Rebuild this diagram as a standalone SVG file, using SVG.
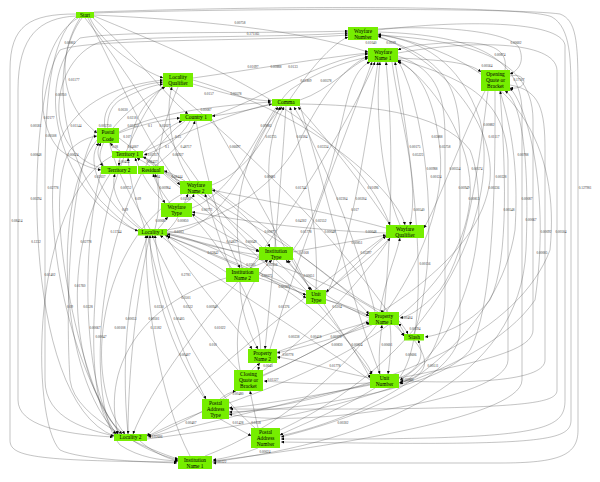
<svg xmlns="http://www.w3.org/2000/svg" width="600" height="482" viewBox="0 0 600 482">
<defs>
<marker id="a" viewBox="0 0 10 10" refX="10" refY="5" markerWidth="3" markerHeight="3" markerUnits="userSpaceOnUse" orient="auto"><path d="M0,0 L10,5 L0,10 z" fill="#000"/></marker>
<style>
#edges path{fill:none;stroke:#444;stroke-width:0.32;marker-end:url(#a)}
#edges text{font-family:"Liberation Serif",serif;font-size:3.4px;fill:#333;text-anchor:middle}
.n rect{fill:#76ee00}
.n text{font-family:"Liberation Serif",serif;font-size:5.4px;fill:#000;text-anchor:middle}
</style>
</defs>
<rect width="600" height="482" fill="#fff"/>
<g id="edges">
<path d="M76,14 C30,14 10,25 10,70 L10,440 C10,456 30,461 177,462"/>
<path d="M76,16 C40,18 18,35 18,90 L18,400 C18,425 60,434 113,437"/>
<path d="M94,13 C250,8 520,8 560,14 C576,20 578,40 578,90 L578,430 C578,455 560,463 500,463 L213,463"/>
<path d="M94,12 C300,5 530,6 552,17 C571,28 571,60 571,100 L571,420 C571,442 540,446 281,442"/>
<path d="M378,30 C460,20 560,20 565,45 L565,400 C565,432 540,440 281,439"/>
<path d="M398,53 C470,40 555,40 557,70 L557,390 C557,405 520,410 230,409"/>
<path d="M510,85 C540,90 545,110 545,150 L545,360 C545,380 480,384 400,381"/>
<path d="M378,35 C450,40 533,50 533,120 L533,330 C533,360 420,370 300,400 C220,420 170,432 148,437"/>
<path d="M488,91 C480,150 470,250 440,290 C420,310 410,316 400,318"/>
<path d="M500,91 C505,160 510,260 490,300 C470,325 440,335 425,337"/>
<path d="M398,58 C440,60 470,62 481,72"/>
<path d="M505,70 C510,40 470,40 420,45 C405,47 400,49 398,50"/>
<path d="M378,29 C430,25 515,30 520,50 C525,65 515,72 510,74"/>
<path d="M510,76 C527,72 530,90 510,88"/>
<path d="M300,100 C330,90 350,65 368,58"/>
<path d="M293,250 C330,200 340,120 350,90 C355,75 362,65 370,62"/>
<path d="M326,295 C350,250 365,150 378,62"/>
<path d="M384,312 C390,250 395,150 386,62"/>
<path d="M399,378 C430,340 420,200 395,62"/>
<path d="M414,334 C440,260 430,120 398,60"/>
<path d="M400,225 C380,180 375,100 380,62"/>
<path d="M167,230 C230,220 280,180 300,140 C320,100 340,70 368,56"/>
<path d="M212,116 C260,100 320,60 368,54"/>
<path d="M193,78 C250,70 320,58 368,53"/>
<path d="M192,208 C240,190 260,120 290,90 C320,70 345,62 368,57"/>
<path d="M119,132 C160,110 230,105 271,102"/>
<path d="M143,152 C190,130 240,110 272,104"/>
<path d="M212,185 C250,170 270,130 280,107"/>
<path d="M167,233 C230,230 250,150 278,107"/>
<path d="M276,247 C270,200 260,150 284,107"/>
<path d="M242,268 C230,220 240,150 282,107"/>
<path d="M316,290 C320,220 300,150 290,107"/>
<path d="M375,312 C360,250 320,150 294,107"/>
<path d="M390,225 C360,180 320,130 298,107"/>
<path d="M290,99 C310,70 330,45 348,37"/>
<path d="M193,84 C230,95 250,100 271,101"/>
<path d="M300,104 C360,105 440,110 470,150 C490,200 480,330 400,380"/>
<path d="M90,18 C100,40 130,65 163,78"/>
<path d="M105,128 C100,100 130,85 163,82"/>
<path d="M130,151 C130,120 150,95 165,87"/>
<path d="M150,229 C120,180 90,120 120,100 C140,90 150,86 163,84"/>
<path d="M190,181 C170,150 165,110 172,87"/>
<path d="M120,434 C60,350 40,200 60,140 C80,100 120,85 163,80"/>
<path d="M272,104 C250,110 230,114 212,116"/>
<path d="M119,133 C140,125 160,120 180,118"/>
<path d="M143,153 C160,135 170,125 182,121"/>
<path d="M190,121 C180,140 160,150 144,155"/>
<path d="M155,166 C175,150 190,135 195,121"/>
<path d="M120,151 C115,148 112,145 110,143"/>
<path d="M80,18 C60,50 55,100 97,133"/>
<path d="M116,434 C80,380 40,200 70,150 C80,140 90,137 97,136"/>
<path d="M140,229 C100,200 85,160 99,143"/>
<path d="M104,166 C95,155 98,148 101,143"/>
<path d="M145,229 C135,200 130,180 128,158"/>
<path d="M180,185 C160,170 150,160 143,157"/>
<path d="M120,158 C119,162 119,164 119,166"/>
<path d="M150,166 C145,162 140,160 137,158"/>
<path d="M165,203 C150,190 140,170 135,158"/>
<path d="M78,18 C40,40 30,120 60,150 C80,165 90,168 101,170"/>
<path d="M142,229 C120,210 110,190 115,174"/>
<path d="M165,87 C120,110 90,150 103,166"/>
<path d="M185,181 C175,175 168,172 164,171"/>
<path d="M170,203 C160,190 155,180 153,174"/>
<path d="M155,229 C160,210 160,190 155,174"/>
<path d="M185,203 C190,200 193,197 194,194"/>
<path d="M230,268 C220,240 210,210 205,194"/>
<path d="M386,228 C320,210 260,200 212,190"/>
<path d="M167,231 C180,220 185,200 188,194"/>
<path d="M158,229 C162,225 165,220 168,217"/>
<path d="M259,250 C230,240 210,225 192,214"/>
<path d="M386,233 C300,230 240,220 192,212"/>
<path d="M178,87 C160,130 150,180 165,203"/>
<path d="M259,255 C220,250 190,240 167,234"/>
<path d="M226,272 C200,255 180,245 167,236"/>
<path d="M306,295 C250,270 200,250 165,235"/>
<path d="M369,316 C300,290 230,260 167,236"/>
<path d="M370,380 C300,330 200,270 160,235"/>
<path d="M255,428 C200,380 160,300 155,235"/>
<path d="M238,370 C200,330 170,280 152,235"/>
<path d="M128,434 C120,350 130,280 148,235"/>
<path d="M205,399 C170,350 150,280 150,235"/>
<path d="M190,456 C160,400 145,300 146,235"/>
<path d="M326,293 C350,270 370,250 386,236"/>
<path d="M380,312 C385,280 395,260 400,238"/>
<path d="M293,252 C330,245 360,240 386,235"/>
<path d="M392,62 C400,120 420,180 410,225"/>
<path d="M485,91 C460,140 440,200 424,228"/>
<path d="M250,268 C260,264 265,262 268,260"/>
<path d="M312,290 C300,275 290,265 286,260"/>
<path d="M167,231 C200,235 230,245 259,251"/>
<path d="M212,190 C240,210 260,230 270,247"/>
<path d="M369,318 C330,300 300,280 288,260"/>
<path d="M240,370 C230,320 250,280 272,260"/>
<path d="M293,258 C300,270 305,280 310,290"/>
<path d="M259,278 C280,285 295,290 306,295"/>
<path d="M326,300 C345,305 360,310 369,316"/>
<path d="M390,238 C370,260 340,280 326,292"/>
<path d="M380,374 C378,360 380,340 382,325"/>
<path d="M405,335 C403,330 400,325 398,324"/>
<path d="M399,321 C403,326 406,330 408,334"/>
<path d="M277,352 C310,340 340,330 369,322"/>
<path d="M263,375 C300,360 340,335 370,323"/>
<path d="M399,378 C420,370 425,355 418,340"/>
<path d="M414,340 C430,360 430,375 399,383"/>
<path d="M370,378 C330,370 300,360 277,357"/>
<path d="M372,325 C330,340 300,348 277,353"/>
<path d="M252,370 C255,366 258,365 260,363"/>
<path d="M240,282 C240,310 250,335 258,349"/>
<path d="M370,383 C330,385 290,383 264,381"/>
<path d="M220,399 C225,395 230,392 236,391"/>
<path d="M258,428 C255,415 252,400 250,391"/>
<path d="M390,325 C392,340 390,360 388,374"/>
<path d="M324,304 C340,330 360,360 372,375"/>
<path d="M148,235 C160,300 190,370 206,399"/>
<path d="M370,385 C320,395 260,405 229,408"/>
<path d="M202,412 C180,420 160,430 148,436"/>
<path d="M220,419 C230,425 245,432 251,436"/>
<path d="M258,448 C240,455 225,458 213,460"/>
<path d="M375,388 C340,410 300,425 280,435"/>
<path d="M150,235 C135,300 128,380 128,434"/>
<path d="M386,235 C300,300 200,380 147,436"/>
<path d="M182,194 C100,240 80,380 125,434"/>
<path d="M110,174 C60,250 70,380 122,434"/>
<path d="M97,140 C50,200 60,380 118,434"/>
<path d="M260,258 C200,320 150,390 133,434"/>
<path d="M140,441 C150,450 165,458 178,461"/>
<path d="M112,156 C30,200 30,420 60,450 C80,460 150,462 177,463"/>
<path d="M185,121 C100,180 80,400 120,445 C140,458 160,460 178,461"/>
<path d="M280,436 C400,410 500,330 515,230 C520,150 505,110 500,91"/>
<path d="M212,462 C380,440 520,380 526,250 C530,150 520,100 505,91"/>
<path d="M147,437 C250,400 350,300 390,238"/>
<path d="M229,403 C350,360 460,300 470,200 C475,140 430,80 398,60"/>
<path d="M263,376 C380,320 480,260 490,180 C495,120 440,60 378,36"/>
<path d="M167,234 C280,260 380,300 404,336"/>
<path d="M167,233 C250,250 360,340 372,374"/>
<path d="M270,349 C300,250 340,150 372,62"/>
<path d="M250,268 C300,200 350,120 375,62"/>
<path d="M205,456 C350,400 450,250 440,150 C435,100 420,70 398,62"/>
<path d="M280,430 C450,350 500,200 480,120 C460,60 420,40 378,35"/>
<path d="M82,18 C50,60 60,150 100,200 C120,220 130,228 138,231"/>
<path d="M88,18 C120,80 150,150 180,185"/>
<path d="M92,17 C140,60 170,100 188,114"/>
<path d="M101,168 C40,150 50,60 100,42 C150,35 270,38 348,33"/>
<path d="M138,231 C60,200 30,80 80,38 C130,30 260,34 348,31"/>
<path d="M94,15 C200,20 300,30 368,52"/>
<path d="M398,56 C440,70 445,100 445,140 L445,300 C445,330 430,370 400,384"/>
<path d="M378,37 C450,60 460,90 460,150 L460,330 C460,380 350,420 281,437"/>
<path d="M398,59 C470,80 505,100 508,160 L508,360 C508,400 300,430 229,414"/>
<path d="M378,32 C480,35 520,60 522,110 L522,380 C522,420 300,450 213,461"/>
<path d="M495,91 C495,140 497,300 470,350 C440,390 300,410 229,412"/>
<path d="M76,17 C50,40 45,100 45,180 L45,380 C45,420 90,430 114,436"/>
<path d="M97,130 C70,170 65,300 70,380 C75,420 150,450 178,459"/>
<path d="M101,172 C80,250 85,380 110,420 C130,445 160,455 178,460"/>
<path d="M163,86 C130,130 100,200 95,300 C90,380 100,420 116,434"/>
<path d="M165,235 C200,290 240,330 252,349"/>
<path d="M226,278 C150,300 100,360 118,434"/>
<path d="M212,188 C300,250 350,300 384,312"/>
<path d="M192,215 C240,270 270,330 258,370"/>
<path d="M163,82 C250,150 350,250 404,336"/>
<path d="M193,80 C330,120 400,200 405,225"/>
<path d="M119,138 C200,200 280,280 306,298"/>
<path d="M143,156 C240,220 330,300 370,378"/>
<path d="M164,172 C260,230 320,260 369,314"/>
<path d="M300,106 C330,200 350,300 380,374"/>
<path d="M286,106 C280,200 270,300 265,349"/>
<path d="M212,119 C260,200 300,280 312,290"/>
<path d="M196,121 C210,200 230,250 240,268"/>
<path d="M85,18 C150,100 200,200 259,252"/>
<path d="M94,16 C200,60 350,120 390,225"/>
<path d="M147,439 C300,420 480,380 535,300 C550,200 530,110 510,88"/>
<path d="M229,414 C400,390 520,330 550,250 C560,150 520,60 378,34"/>
<path d="M114,436 C20,400 25,100 60,50 C90,38 250,42 348,35"/>
<text x="70" y="44">0.00802</text><text x="74" y="81">0.01177</text><text x="61" y="96">0.00950</text><text x="49" y="119">0.02177</text><text x="36" y="127">0.00581</text><text x="76" y="127">0.01144</text><text x="105" y="127">0.005750</text><text x="51" y="137">0.00508</text><text x="123" y="111">0.0030</text><text x="132" y="119">0.0218</text><text x="133" y="127">0.05337</text><text x="150" y="127">0.1</text><text x="165" y="127">0.03027</text><text x="127" y="138">0.107</text><text x="115" y="148">0.08</text><text x="133" y="148">0.04007</text><text x="178" y="138">0.25</text><text x="153" y="156">0.05937</text><text x="167" y="148">0.1</text><text x="186" y="148">0.48717</text><text x="36" y="156">0.00848</text><text x="73" y="156">0.00624</text><text x="178" y="156">0.06937</text>
<text x="240" y="24">0.00758</text><text x="253" y="35">0.171165</text><text x="253" y="68">0.01097</text><text x="276" y="68">0.00888</text><text x="293" y="68">0.0133</text><text x="306" y="82">0.01809</text><text x="326" y="82">0.00578</text><text x="209" y="95">0.0157</text><text x="236" y="95">0.00578</text><text x="206" y="111">0.00087</text><text x="266" y="127">0.09083</text><text x="271" y="138">0.05735</text><text x="302" y="138">0.05184</text><text x="235" y="148">0.06697</text><text x="323" y="148">0.03334</text><text x="371" y="44">0.01040</text><text x="391" y="44">0.0039</text>
<text x="516" y="44">0.00602</text><text x="500" y="56">0.00874</text><text x="487" y="67">0.00564</text><text x="519" y="81">0.17507</text><text x="489" y="126">0.00882</text><text x="494" y="138">0.01117</text><text x="437" y="138">0.03888</text><text x="445" y="148">0.05758</text><text x="415" y="148">0.00175</text><text x="523" y="156">0.00788</text><text x="418" y="156">0.05223</text>
<text x="124" y="163">0.00454</text><text x="152" y="163">0.06437</text><text x="100" y="178">0.02037</text><text x="157" y="178">0.04</text><text x="177" y="178">0.08444</text><text x="53" y="189">0.02778</text><text x="126" y="189">0.00752</text><text x="165" y="189">0.00984</text><text x="36" y="200">0.00294</text><text x="138" y="200">0.09</text><text x="186" y="200">0.03187</text><text x="125" y="211">0.09</text><text x="17" y="222">0.08414</text><text x="161" y="222">0.00687</text><text x="183" y="222">0.00850</text><text x="116" y="233">0.11744</text><text x="179" y="233">0.0303</text><text x="36" y="243">0.1232</text><text x="86" y="243">0.02778</text><text x="50" y="276">0.01402</text><text x="80" y="287">0.01760</text><text x="186" y="276">0.2781</text><text x="186" y="299">0.0501</text><text x="70" y="308">0.09</text><text x="88" y="308">0.0328</text><text x="159" y="308">0.0350</text><text x="188" y="308">0.0332</text><text x="131" y="320">0.00053</text><text x="154" y="320">0.00501</text><text x="179" y="320">0.00405</text>
<text x="270" y="178">0.00881</text><text x="301" y="189">0.01744</text><text x="373" y="189">0.01096</text><text x="342" y="200">0.02204</text><text x="361" y="200">0.00204</text><text x="207" y="211">0.00771</text><text x="355" y="211">0.017</text><text x="301" y="222">0.04302</text><text x="321" y="222">0.02552</text><text x="270" y="233">0.00877</text><text x="306" y="233">0.01778</text><text x="330" y="233">0.00048</text><text x="371" y="233">0.00048</text><text x="232" y="243">0.04837</text><text x="251" y="243">0.00049</text><text x="357" y="244">0.00851</text><text x="213" y="254">0.03842</text><text x="304" y="254">0.0168</text><text x="366" y="254">0.03297</text><text x="251" y="266">0.0301</text><text x="272" y="266">0.02556</text><text x="267" y="277">0.00275</text><text x="309" y="277">0.00651</text><text x="284" y="288">0.00309</text><text x="212" y="308">0.00940</text><text x="284" y="308">0.01376</text><text x="337" y="308">0.0204</text>
<text x="432" y="170">0.00988</text><text x="455" y="170">0.00554</text><text x="477" y="170">0.00574</text><text x="436" y="178">0.00124</text><text x="501" y="178">0.00328</text><text x="464" y="189">0.00949</text><text x="494" y="189">0.00236</text><text x="585" y="189">0.127981</text><text x="474" y="200">0.00813</text><text x="527" y="200">0.00087</text><text x="419" y="211">0.00540</text><text x="509" y="211">0.00548</text><text x="531" y="221">0.00067</text><text x="546" y="233">0.00092</text><text x="561" y="233">0.00504</text><text x="542" y="254">0.00005</text><text x="425" y="265">0.00156</text><text x="407" y="319">0.00404</text>
<text x="95" y="329">0.00067</text><text x="120" y="329">0.00108</text><text x="156" y="329">0.11182</text><text x="101" y="338">0.00047</text><text x="185" y="356">0.00407</text><text x="191" y="424">0.00407</text><text x="157" y="438">0.02606</text>
<text x="220" y="329">0.01022</text><text x="213" y="346">0.010</text><text x="294" y="338">0.00238</text><text x="316" y="338">0.00418</text><text x="336" y="338">0.00370</text><text x="337" y="346">0.00830</text><text x="357" y="346">0.00814</text><text x="387" y="346">0.00601</text><text x="288" y="356">0.00778</text><text x="268" y="367">0.0040</text><text x="335" y="367">0.01778</text><text x="273" y="381">0.01527</text><text x="238" y="395">0.00480</text><text x="238" y="424">0.01428</text><text x="256" y="424">0.0158</text><text x="343" y="424">0.00302</text><text x="265" y="453">0.00624</text><text x="221" y="463">0.00322</text>
<text x="415" y="330">0.00394</text><text x="411" y="356">0.00606</text><text x="433" y="367">0.00511</text><text x="408" y="381">0.00880</text>
</g>
<g id="n-start" class="n"><rect x="76" y="12" width="18" height="6"/><text x="85" y="16.8">Start</text></g>
<g id="n-wayfare-number" class="n"><rect x="348" y="27" width="30" height="13"/><text x="363" y="32.5">Wayfare<tspan x="363" dy="6">Number</tspan></text></g>
<g id="n-wayfare-name-1" class="n"><rect x="368" y="48" width="30" height="14"/><text x="383" y="54">Wayfare<tspan x="383" dy="6">Name 1</tspan></text></g>
<g id="n-opening-quote" class="n"><rect x="481" y="70" width="29" height="21"/><text x="495.5" y="75.5">Opening<tspan x="495.5" dy="6">Quote or</tspan><tspan x="495.5" dy="6">Bracket</tspan></text></g>
<g id="n-locality-qualifier" class="n"><rect x="163" y="73" width="30" height="14"/><text x="178" y="79">Locality<tspan x="178" dy="6">Qualifier</tspan></text></g>
<g id="n-comma" class="n"><rect x="272" y="99" width="28" height="7"/><text x="286" y="104.4">Comma</text></g>
<g id="n-country-1" class="n"><rect x="180" y="114" width="32" height="7"/><text x="196" y="119.4">Country 1</text></g>
<g id="n-postal-code" class="n"><rect x="97" y="128" width="22" height="15"/><text x="108" y="134">Postal<tspan x="108" dy="6.5">Code</tspan></text></g>
<g id="n-territory-1" class="n"><rect x="112" y="151" width="31" height="7"/><text x="127.5" y="156.4">Territory 1</text></g>
<g id="n-territory-2" class="n"><rect x="101" y="166" width="36" height="8"/><text x="119" y="171.9">Territory 2</text></g>
<g id="n-residual" class="n"><rect x="138" y="166" width="26" height="8"/><text x="151" y="171.9">Residual</text></g>
<g id="n-wayfare-name-2" class="n"><rect x="180" y="181" width="32" height="13"/><text x="196" y="186.5">Wayfare<tspan x="196" dy="6">Name 2</tspan></text></g>
<g id="n-wayfare-type" class="n"><rect x="161" y="203" width="31" height="14"/><text x="176.5" y="209">Wayfare<tspan x="176.5" dy="6">Type</tspan></text></g>
<g id="n-locality-1" class="n"><rect x="138" y="229" width="29" height="6.5"/><text x="152.5" y="234.1">Locality 1</text></g>
<g id="n-wayfare-qualifier" class="n"><rect x="386" y="225" width="38" height="13"/><text x="405" y="230.5">Wayfare<tspan x="405" dy="6">Qualifier</tspan></text></g>
<g id="n-institution-type" class="n"><rect x="259" y="247" width="34" height="13"/><text x="276" y="252.5">Institution<tspan x="276" dy="6">Type</tspan></text></g>
<g id="n-institution-name-2" class="n"><rect x="226" y="268" width="33" height="14"/><text x="242.5" y="274">Institution<tspan x="242.5" dy="6">Name 2</tspan></text></g>
<g id="n-unit-type" class="n"><rect x="306" y="290" width="20" height="14"/><text x="316" y="296">Unit<tspan x="316" dy="6">Type</tspan></text></g>
<g id="n-property-name-1" class="n"><rect x="369" y="312" width="30" height="13"/><text x="384" y="317.5">Property<tspan x="384" dy="6">Name 1</tspan></text></g>
<g id="n-slash" class="n"><rect x="404" y="334" width="20" height="6.5"/><text x="414" y="339.1">Slash</text></g>
<g id="n-property-name-2" class="n"><rect x="248" y="349" width="29" height="14"/><text x="262.5" y="355">Property<tspan x="262.5" dy="6">Name 2</tspan></text></g>
<g id="n-closing-quote" class="n"><rect x="234" y="370" width="29" height="21"/><text x="248.5" y="375.5">Closing<tspan x="248.5" dy="6">Quote or</tspan><tspan x="248.5" dy="6">Bracket</tspan></text></g>
<g id="n-unit-number" class="n"><rect x="370" y="374" width="29" height="14"/><text x="384.5" y="380">Unit<tspan x="384.5" dy="6">Number</tspan></text></g>
<g id="n-postal-address-type" class="n"><rect x="202" y="399" width="27" height="20"/><text x="215.5" y="404.5">Postal<tspan x="215.5" dy="6">Address</tspan><tspan x="215.5" dy="6">Type</tspan></text></g>
<g id="n-postal-address-number" class="n"><rect x="251" y="428" width="29" height="20"/><text x="265.5" y="433.5">Postal<tspan x="265.5" dy="6">Address</tspan><tspan x="265.5" dy="6">Number</tspan></text></g>
<g id="n-locality-2" class="n"><rect x="114" y="434" width="33" height="7"/><text x="130.5" y="439.4">Locality 2</text></g>
<g id="n-institution-name-1" class="n"><rect x="178" y="456" width="34" height="13"/><text x="195" y="461.5">Institution<tspan x="195" dy="6">Name 1</tspan></text></g>
</svg>
